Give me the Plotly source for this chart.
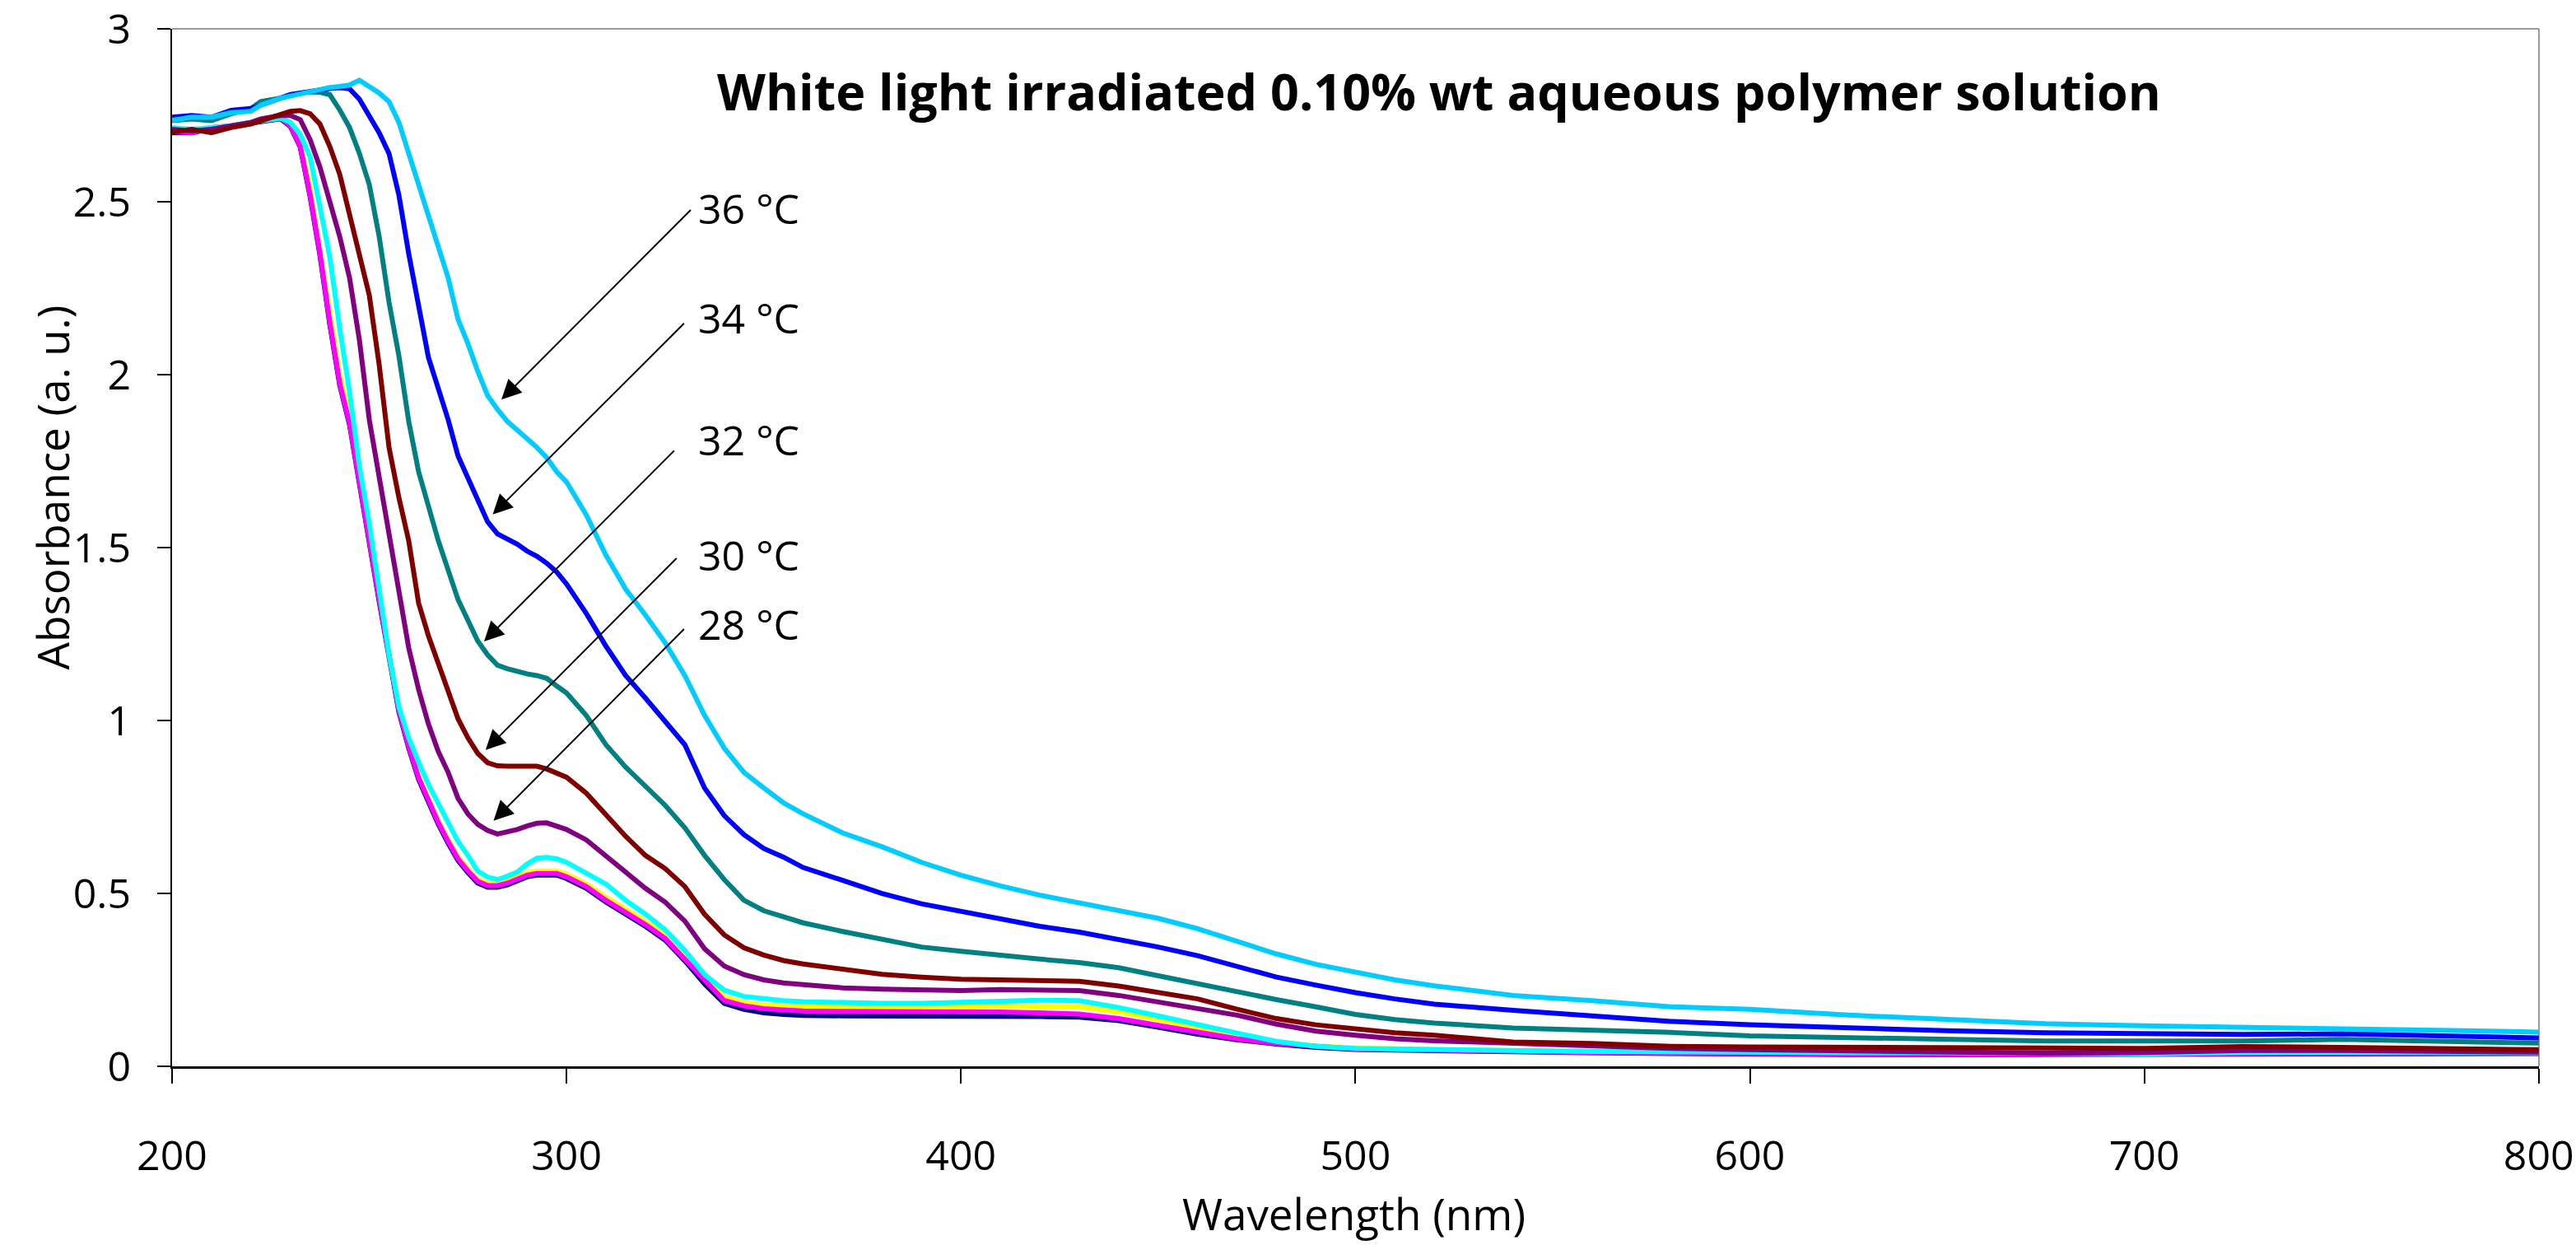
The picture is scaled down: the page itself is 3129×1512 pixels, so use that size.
import plotly.graph_objects as go

wavelength = [200, 205, 210, 215, 220, 222.5, 225, 227.5, 230, 232.5, 235, 237.5, 240, 242.5, 245, 247.5,
              250, 252.5, 255, 257.5, 260, 262.5, 265, 267.5, 270, 272.5, 275, 277.5, 280, 282.5, 285, 287.5,
              290, 292.5, 295, 297.5, 300, 305, 310, 315, 320, 325, 330, 335, 340, 345, 350, 355, 360, 370,
              380, 390, 400, 410, 420, 430, 440, 450, 460, 470, 480, 490, 500, 510, 520, 540, 560, 580, 600,
              625, 650, 675, 700, 725, 750, 775, 800]

abs_36 = [2.736, 2.745, 2.745, 2.758, 2.762, 2.78, 2.79, 2.80, 2.806, 2.812,
          2.82, 2.826, 2.831, 2.834, 2.838, 2.852, 2.835, 2.815, 2.79, 2.73,
          2.64, 2.55, 2.46, 2.36, 2.28, 2.16, 2.09, 2.01, 1.94, 1.90,
          1.865, 1.84, 1.815, 1.79, 1.76, 1.72, 1.69, 1.595, 1.478, 1.38,
          1.305, 1.225, 1.13, 1.015, 0.92, 0.85, 0.805, 0.762, 0.73, 0.675,
          0.635, 0.59, 0.553, 0.522, 0.495, 0.472, 0.45, 0.428, 0.398, 0.36,
          0.325, 0.295, 0.272, 0.25, 0.233, 0.205, 0.19, 0.172, 0.165, 0.148,
          0.136, 0.123, 0.117, 0.113, 0.111, 0.104, 0.099]

abs_34 = [2.745, 2.75, 2.745, 2.765, 2.77, 2.78, 2.79, 2.80, 2.81, 2.815,
          2.82, 2.825, 2.828, 2.83, 2.827, 2.797, 2.75, 2.70, 2.64, 2.52,
          2.35, 2.20, 2.05, 1.96, 1.87, 1.765, 1.70, 1.637, 1.575, 1.54,
          1.525, 1.51, 1.49, 1.475, 1.455, 1.43, 1.395, 1.31, 1.215, 1.13,
          1.065, 0.995, 0.93, 0.805, 0.725, 0.67, 0.63, 0.605, 0.575, 0.538,
          0.50, 0.47, 0.448, 0.426, 0.405, 0.388, 0.368, 0.345, 0.32, 0.29,
          0.258, 0.235, 0.213, 0.195, 0.18, 0.162, 0.146, 0.13, 0.12, 0.11,
          0.103, 0.097, 0.093, 0.092, 0.094, 0.089, 0.082]

abs_32 = [2.735, 2.74, 2.735, 2.755, 2.77, 2.79, 2.795, 2.80, 2.81, 2.815,
          2.818, 2.817, 2.81, 2.766, 2.715, 2.64, 2.55, 2.40, 2.21, 2.055,
          1.865, 1.72, 1.62, 1.52, 1.435, 1.35, 1.29, 1.23, 1.19, 1.16,
          1.15, 1.142, 1.135, 1.13, 1.122, 1.10, 1.08, 1.015, 0.93, 0.865,
          0.808, 0.755, 0.69, 0.61, 0.54, 0.48, 0.45, 0.433, 0.415, 0.39,
          0.366, 0.345, 0.333, 0.32, 0.31, 0.30, 0.285, 0.262, 0.238, 0.215,
          0.193, 0.172, 0.15, 0.135, 0.125, 0.111, 0.105, 0.098, 0.088, 0.082,
          0.077, 0.073, 0.073, 0.073, 0.078, 0.071, 0.067]

abs_30 = [2.702, 2.71, 2.70, 2.715, 2.725, 2.735, 2.745, 2.755, 2.762, 2.764,
          2.755, 2.725, 2.66, 2.58, 2.46, 2.34, 2.23, 2.03, 1.79, 1.645,
          1.52, 1.34, 1.245, 1.165, 1.09, 1.005, 0.95, 0.905, 0.878, 0.869,
          0.868, 0.868, 0.868, 0.868, 0.86, 0.848, 0.836, 0.79, 0.725, 0.665,
          0.61, 0.572, 0.52, 0.44, 0.38, 0.343, 0.322, 0.306, 0.296, 0.28,
          0.266, 0.258, 0.252, 0.25, 0.249, 0.246, 0.232, 0.215, 0.195, 0.165,
          0.138, 0.12, 0.108, 0.097, 0.09, 0.07, 0.066, 0.058, 0.056, 0.054,
          0.054, 0.053, 0.052, 0.057, 0.055, 0.052, 0.048]

abs_28 = [2.71, 2.705, 2.71, 2.72, 2.73, 2.74, 2.745, 2.75, 2.75, 2.738,
          2.68, 2.60, 2.50, 2.40, 2.28, 2.10, 1.87, 1.71, 1.53, 1.37,
          1.21, 1.09, 0.99, 0.91, 0.85, 0.775, 0.73, 0.70, 0.682, 0.672,
          0.678, 0.685, 0.695, 0.703, 0.704, 0.695, 0.685, 0.655, 0.607, 0.56,
          0.515, 0.475, 0.42, 0.34, 0.29, 0.265, 0.25, 0.241, 0.236, 0.227,
          0.223, 0.221, 0.219, 0.222, 0.222, 0.219, 0.205, 0.187, 0.166, 0.148,
          0.122, 0.102, 0.09, 0.08, 0.074, 0.066, 0.06, 0.052, 0.048, 0.044,
          0.04, 0.038, 0.04, 0.046, 0.046, 0.044, 0.041]

abs_cyan = [2.715, 2.71, 2.715, 2.72, 2.73, 2.735, 2.74, 2.742, 2.73, 2.695,
            2.63, 2.48, 2.34, 2.135, 1.95, 1.735, 1.57, 1.38, 1.19, 1.04,
            0.95, 0.88, 0.815, 0.76, 0.705, 0.65, 0.61, 0.565, 0.547, 0.54,
            0.55, 0.562, 0.585, 0.602, 0.604, 0.60, 0.59, 0.56, 0.527, 0.48,
            0.44, 0.395, 0.335, 0.265, 0.22, 0.202, 0.195, 0.19, 0.187, 0.184,
            0.182, 0.182, 0.185, 0.19, 0.191, 0.19, 0.17, 0.146, 0.12, 0.096,
            0.072, 0.058, 0.052, 0.05, 0.048, 0.045, 0.043, 0.042, 0.04, 0.04,
            0.04, 0.038, 0.036, 0.04, 0.042, 0.041, 0.04]

abs_yellow = [2.71, 2.705, 2.715, 2.72, 2.73, 2.735, 2.74, 2.742, 2.724, 2.675,
              2.54, 2.36, 2.17, 2.00, 1.875, 1.70, 1.54, 1.355, 1.195, 1.035,
              0.93, 0.84, 0.776, 0.711, 0.656, 0.606, 0.571, 0.542, 0.530, 0.530,
              0.537, 0.547, 0.560, 0.565, 0.566, 0.565, 0.556, 0.528, 0.489, 0.454,
              0.419, 0.379, 0.319, 0.254, 0.200, 0.184, 0.177, 0.174, 0.172, 0.171,
              0.171, 0.172, 0.173, 0.175, 0.175, 0.172, 0.158, 0.135, 0.11, 0.089,
              0.071, 0.059, 0.053, 0.05, 0.048, 0.045, 0.043, 0.041, 0.039, 0.038,
              0.038, 0.037, 0.037, 0.038, 0.040, 0.040, 0.040]

abs_magenta = [2.705, 2.70, 2.715, 2.72, 2.73, 2.735, 2.74, 2.742, 2.72, 2.66,
               2.52, 2.35, 2.15, 1.975, 1.86, 1.685, 1.53, 1.35, 1.19, 1.03,
               0.925, 0.835, 0.77, 0.705, 0.65, 0.60, 0.565, 0.535, 0.523, 0.523,
               0.53, 0.54, 0.553, 0.558, 0.558, 0.558, 0.548, 0.52, 0.48, 0.445,
               0.41, 0.37, 0.31, 0.245, 0.19, 0.175, 0.167, 0.163, 0.16, 0.159,
               0.159, 0.159, 0.159, 0.157, 0.155, 0.151, 0.138, 0.118, 0.097, 0.08,
               0.066, 0.057, 0.05, 0.048, 0.046, 0.043, 0.04, 0.038, 0.036, 0.035,
               0.035, 0.035, 0.035, 0.036, 0.037, 0.038, 0.038]

abs_navy = [2.70, 2.70, 2.712, 2.718, 2.728, 2.733, 2.738, 2.74, 2.718, 2.658,
            2.515, 2.345, 2.145, 1.97, 1.855, 1.68, 1.525, 1.345, 1.185, 1.025,
            0.92, 0.83, 0.765, 0.70, 0.645, 0.595, 0.56, 0.53, 0.518, 0.518,
            0.525, 0.535, 0.548, 0.553, 0.553, 0.553, 0.543, 0.515, 0.475, 0.44,
            0.405, 0.365, 0.305, 0.238, 0.182, 0.165, 0.155, 0.15, 0.147, 0.146,
            0.146, 0.146, 0.146, 0.145, 0.144, 0.142, 0.132, 0.113, 0.093, 0.077,
            0.064, 0.055, 0.049, 0.047, 0.045, 0.042, 0.039, 0.037, 0.035, 0.034,
            0.034, 0.034, 0.034, 0.035, 0.036, 0.037, 0.037]

# drawing order (first drawn is at the bottom)
series_names = ["series yellow", "series navy", "series magenta", "series cyan",
                "28 °C", "30 °C", "32 °C", "34 °C", "36 °C"]
series_values = [abs_yellow, abs_navy, abs_magenta, abs_cyan, abs_28, abs_30, abs_32, abs_34, abs_36]
series_colors = ["#FFFF00", "#000080", "#FF00FF", "#00FFFF", "#800080", "#800000", "#008080", "#0000FF", "#00CCFF"]

y_tick_values = [0, 0.5, 1, 1.5, 2, 2.5, 3]
y_tick_labels = ["0", "0.5", "1", "1.5", "2", "2.5", "3"]
x_tick_values = [200, 300, 400, 500, 600, 700, 800]
x_tick_labels = ["200", "300", "400", "500", "600", "700", "800"]

label_texts = ["36 °C", "34 °C", "32 °C", "30 °C", "28 °C"]
label_x = [332.9, 332.9, 332.9, 332.9, 332.9]
label_y = [2.481, 2.164, 1.812, 1.479, 1.279]
arrow_tail_x = [331.8, 330.1, 327.6, 328.2, 330.1]
arrow_tail_y = [2.480, 2.152, 1.784, 1.473, 1.268]
arrow_head_x = [283.5, 281.3, 279.1, 279.5, 281.5]
arrow_head_y = [1.928, 1.596, 1.229, 0.915, 0.710]

FONT = "Open Sans, Noto Sans, DejaVu Sans, sans-serif"

fig = go.Figure()
for name, vals, col in zip(series_names, series_values, series_colors):
    fig.add_trace(go.Scatter(x=wavelength, y=vals, mode="lines", name=name,
                             line=dict(color=col, width=6), showlegend=False))

annotations = []
for t, lx, ly in zip(label_texts, label_x, label_y):
    annotations.append(dict(x=lx, y=ly, xref="x", yref="y", text=t, showarrow=False,
                            xanchor="left", yanchor="middle",
                            font=dict(family=FONT, size=50, color="black")))
for hx, hy, tx, ty in zip(arrow_head_x, arrow_head_y, arrow_tail_x, arrow_tail_y):
    annotations.append(dict(x=hx, y=hy, xref="x", yref="y", ax=tx, ay=ty, axref="x", ayref="y",
                            text="", showarrow=True, arrowhead=2, arrowsize=2.4, arrowwidth=2,
                            arrowcolor="black"))

annotations.append(dict(x=0.5353, y=0.94, xref="paper", yref="paper",
                        text="<b>White light irradiated 0.10% wt aqueous polymer solution</b>",
                        showarrow=False, xanchor="center", yanchor="middle",
                        font=dict(family=FONT, size=61, color="black")))
annotations.append(dict(x=-0.0506, y=0.558, xref="paper", yref="paper",
                        text="Absorbance (a. u.)", textangle=-90, showarrow=False,
                        xanchor="center", yanchor="middle",
                        font=dict(family=FONT, size=53, color="black")))
annotations.append(dict(x=0.4993, y=-0.1722, xref="paper", yref="paper",
                        text="Wavelength (nm)", showarrow=False,
                        xanchor="center", yanchor="bottom",
                        font=dict(family=FONT, size=53, color="black")))

shapes = [
    dict(type="line", xref="paper", yref="paper", x0=0, x1=1, y0=1, y1=1,
         line=dict(color="#9A9A9A", width=2), layer="below"),
    dict(type="line", xref="paper", yref="paper", x0=1, x1=1, y0=0, y1=1,
         line=dict(color="#9A9A9A", width=2), layer="below"),
]

fig.update_layout(
    width=3129, height=1512,
    margin=dict(l=209, r=45, t=35, b=217, autoexpand=False),
    paper_bgcolor="white", plot_bgcolor="white",
    annotations=annotations, shapes=shapes,
    font=dict(family=FONT, color="black"),
)
fig.update_xaxes(range=[200, 800.05], tickmode="array", tickvals=x_tick_values, ticktext=x_tick_labels,
                 ticks="outside", ticklen=18, tickwidth=2, tickcolor="black",
                 showline=True, linecolor="black", linewidth=3, automargin=False,
                 showgrid=False, zeroline=False, ticklabeloverflow="allow",
                 tickfont=dict(family=FONT, size=50, color="black"),
                 ticklabelstandoff=45)
fig.update_yaxes(range=[0, 3.0005], tickmode="array", tickvals=y_tick_values, ticktext=y_tick_labels,
                 ticks="outside", ticklen=16, tickwidth=2, tickcolor="black",
                 showline=True, linecolor="black", linewidth=2, automargin=False,
                 showgrid=False, zeroline=False, ticklabeloverflow="allow",
                 tickfont=dict(family=FONT, size=50, color="black"),
                 ticklabelstandoff=22)

fig.write_html("out.html")
